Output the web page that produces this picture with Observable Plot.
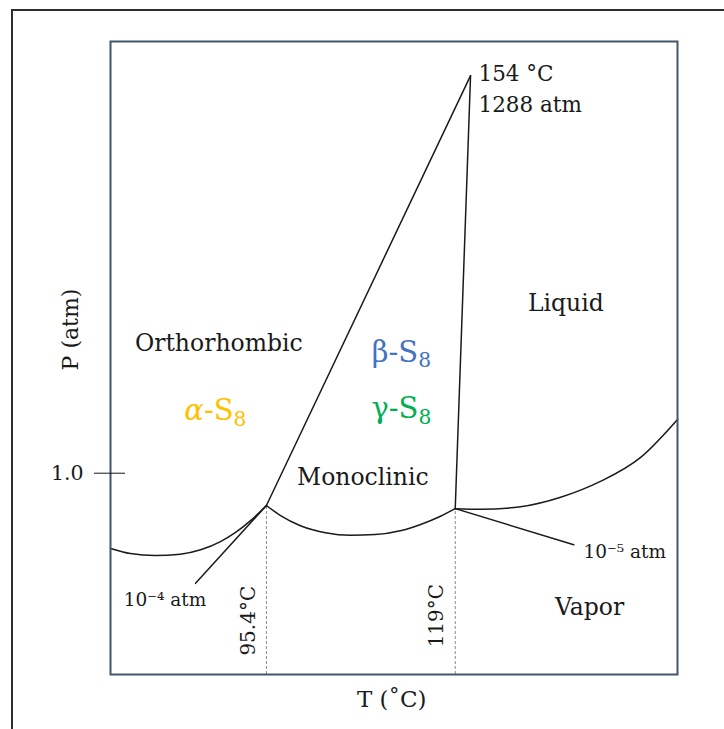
<!DOCTYPE html>
<html><head><meta charset="utf-8">
<script src="https://cdn.jsdelivr.net/npm/d3@7"></script>
<script src="https://cdn.jsdelivr.net/npm/@observablehq/plot@0.6"></script>
<style>
html,body{margin:0;padding:0;background:#fff;}
#wrap{position:relative;width:724px;height:729px;overflow:hidden;}
#chart{position:absolute;left:0;top:0;}
#outer{position:absolute;left:11px;top:9px;right:-10px;bottom:-10px;border-left:2px solid #2e2e2e;border-top:2px solid #2e2e2e;pointer-events:none;}
</style></head><body>
<div id="wrap"><div id="chart"></div><div id="outer"></div></div>
<script>
// Schematic (not-to-scale) phase diagram of sulfur; T and P in schematic units 0–100.
const tripleT = [27.5, 60.8, 63.5];
const tripleP = [26.7, 26.2, 94.6];

const alphaVaporT = [0, 3.5, 7.9, 12.3, 15.9, 19.4, 22.0, 24.7, 27.5];
const alphaVaporP = [19.9, 19.1, 18.8, 19.0, 19.7, 21.0, 22.4, 24.3, 26.7];
const betaVaporT = [27.5, 30.0, 33.5, 37.9, 42.3, 46.7, 51.1, 54.7, 58.2, 60.8];
const betaVaporP = [26.7, 25.1, 23.5, 22.4, 22.0, 22.1, 22.7, 23.7, 25.0, 26.2];
const liquidVaporT = [60.8, 65.3, 72.3, 79.4, 86.4, 93.5, 100];
const liquidVaporP = [26.2, 26.1, 26.5, 28.0, 30.5, 34.3, 40.3];
const alphaBetaT = [27.5, 63.5];
const alphaBetaP = [26.7, 94.6];
const betaLiquidT = [60.8, 63.5];
const betaLiquidP = [26.2, 94.6];
const leader4T = [27.5, 15.0];
const leader4P = [26.7, 14.4];
const leader5T = [60.8, 81.7];
const leader5P = [26.2, 20.5];

const pTicks = [31.8];
const pTickLabels = ["1.0"];

const regionText = ["Orthorhombic", "Monoclinic", "Liquid", "Vapor"];
const regionT = [19.1, 44.5, 80.3, 84.5];
const regionP = [52.3, 31.1, 58.6, 10.6];

const phaseText = ["α-S₈", "β-S₈", "γ-S₈"];
const phaseColor = ["#FFC000", "#4472C4", "#00B050"];
const phaseT = [18.5, 51.3, 51.3];
const phaseP = [41.7, 50.9, 42.0];

const pressText = ["10⁻⁴ atm", "10⁻⁵ atm"];
const pressT = [9.6, 90.7];
const pressP = [11.8, 19.4];

const criticalText = ["154 °C", "1288 atm"];
const criticalT = [64.9, 64.9];
const criticalP = [94.8, 90.0];

const tempText = ["95.4°C", "119°C"];
const tempT = [24.3, 57.5];
const tempP = [8.5, 9.3];

const xLabel = "T (˚C)";
const yLabel = "P (atm)";

const F = "DejaVu Serif";
const INK = "#1a1a1a";
const zip = (a, b) => a.map((v, i) => ({T: v, P: b[i]}));

const curves = [
  zip(alphaVaporT, alphaVaporP),
  zip(betaVaporT, betaVaporP),
  zip(liquidVaporT, liquidVaporP)
];
const straights = [
  zip(alphaBetaT, alphaBetaP),
  zip(betaLiquidT, betaLiquidP),
  zip(leader4T, leader4P),
  zip(leader5T, leader5P)
];
const idx = (arr) => arr.map((_, i) => i);

const chart = Plot.plot({
  width: 724,
  height: 729,
  marginLeft: 110,
  marginRight: 47,
  marginTop: 41,
  marginBottom: 55,
  style: {background: "transparent"},
  x: {domain: [0, 100], axis: null},
  y: {domain: [0, 100]},
  marks: [
    Plot.ruleX(idx(tripleT).slice(0, 2), {
      x: i => tripleT[i], y1: 0, y2: i => tripleP[i],
      stroke: "#8a8a8a", strokeWidth: 1, strokeDasharray: "3,2"
    }),
    ...curves.map(c => Plot.line(c, {x: "T", y: "P", curve: "monotone-x", stroke: INK, strokeWidth: 1.5})),
    ...straights.map(c => Plot.line(c, {x: "T", y: "P", stroke: INK, strokeWidth: 1.5})),
    Plot.frame({stroke: "#44546A", strokeWidth: 2}),
    Plot.axisY(pTicks, {
      tickSize: 31, dx: 15, tickPadding: 11, label: null,
      tickFormat: d => pTickLabels[pTicks.indexOf(d)],
      stroke: INK, fill: INK, fontSize: 20.5, fontFamily: F
    }),
    Plot.text(idx(regionText), {x: i => regionT[i], y: i => regionP[i], text: i => regionText[i], fill: INK, fontSize: 23.5, fontFamily: F}),
    Plot.text(idx(phaseText), {x: i => phaseT[i], y: i => phaseP[i], text: i => phaseText[i], fill: i => phaseColor[i], fontSize: 29, fontFamily: F}),
    Plot.text(idx(pressText), {x: i => pressT[i], y: i => pressP[i], text: i => pressText[i], fill: INK, fontSize: 18.5, fontFamily: F}),
    Plot.text(idx(criticalText), {x: i => criticalT[i], y: i => criticalP[i], text: i => criticalText[i], fill: INK, fontSize: 21.5, fontFamily: F, textAnchor: "start"}),
    Plot.text(idx(tempText), {x: i => tempT[i], y: i => tempP[i], text: i => tempText[i], fill: INK, fontSize: 20, fontFamily: F, rotate: -90}),
    Plot.text([xLabel], {x: 49.6, y: -4.0, text: d => d, fill: INK, fontSize: 23, fontFamily: F}),
    Plot.text([yLabel], {x: 0, y: 54.5, dx: -40, text: d => d, fill: INK, fontSize: 22, fontFamily: F, rotate: -90})
  ]
});

// Typeset the subscript 8 of S₈ as a real lowered, smaller digit
d3.select(chart).selectAll("text").each(function () {
  const t = this.textContent;
  const m = /^(.)-S₈$/.exec(t);
  if (!m) return;
  const el = d3.select(this);
  el.text(null);
  el.append("tspan").attr("font-style", m[1] === "α" ? "italic" : null).text(m[1]);
  el.append("tspan").text("-S");
  el.append("tspan").attr("font-size", "0.7em").attr("dy", "0.28em").text("8");
});

document.getElementById("chart").appendChild(chart);
</script>
</body></html>
